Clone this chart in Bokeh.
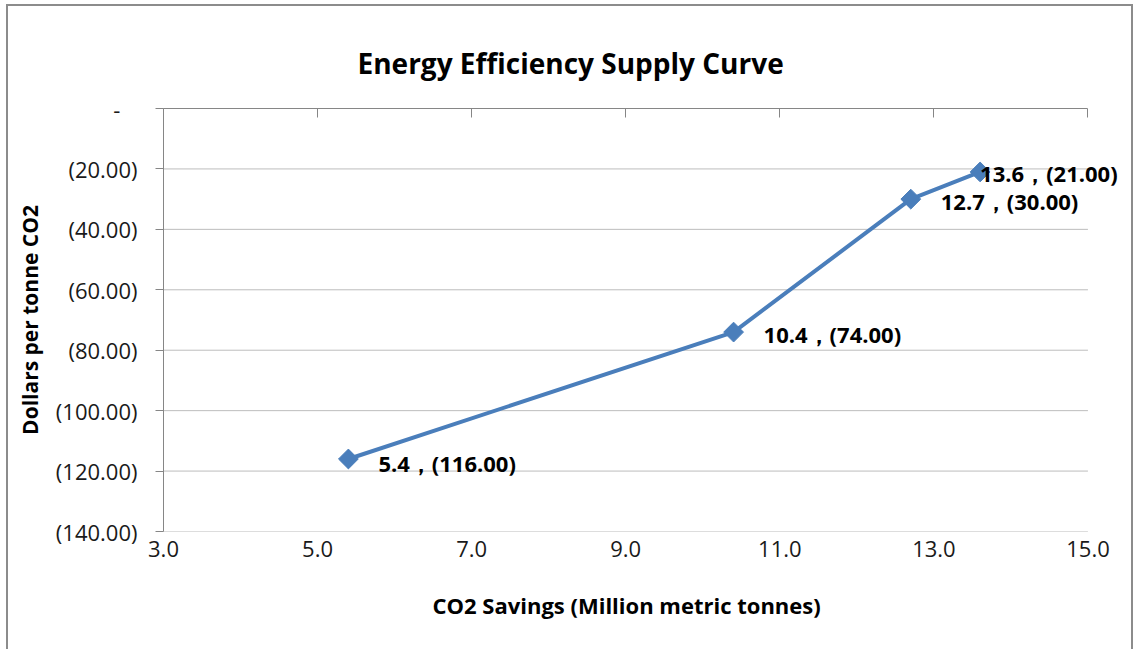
import math
from bokeh.plotting import figure
from bokeh.models import (LinearAxis, FixedTicker, CustomJSTickFormatter, Range1d,
                          ColumnDataSource, Label, Title)
from bokeh.embed import file_html
from bokeh.resources import INLINE

# ---- data ----
savings = [5.4, 10.4, 12.7, 13.6]
cost = [-116.0, -74.0, -30.0, -21.0]
point_labels = ["5.4，(116.00)", "10.4，(74.00)", "12.7，(30.00)", "13.6，(21.00)"]
x_ticks = [3, 5, 7, 9, 11, 13, 15]
y_ticks = [-140, -120, -100, -80, -60, -40, -20, 0]

title_text = "Energy Efficiency Supply Curve"
x_label = "CO2 Savings (Million metric tonnes)"
y_label = "Dollars per tonne CO2"

# label offsets (style)
label_dx = [30, 30, 30, 0]
label_dy = [-4, -2, -2, -1]

FONT = "Open Sans"
BLUE = "#4a7ebb"
AXIS = "#868686"

x_lo, x_hi = x_ticks[0], x_ticks[-1]

# frame extends a little past the last tick so that the last data label is not clipped
p = figure(width=1123, height=643, output_backend="svg", toolbar_location=None,
           x_range=Range1d(x_lo, x_hi + 0.5), y_range=Range1d(-140, 0),
           x_axis_location=None, y_axis_location=None,
           min_border_left=155, min_border_right=5, min_border_top=102, min_border_bottom=118,
           title=None)
p.outline_line_color = None
p.background_fill_color = "white"
p.border_fill_color = "white"
p.styles = {"outline": "2px solid #8c8c8c", "margin-left": "8px", "margin-top": "6px"}

# top axis line at y=0 with inward ticks (closest to frame)
ta = LinearAxis(ticker=FixedTicker(ticks=x_ticks), bounds=(x_lo, x_hi))
ta.axis_line_color = AXIS
ta.major_tick_line_color = AXIS
ta.major_tick_in = 9
ta.major_tick_out = 0
ta.minor_tick_line_color = None
ta.major_label_text_font_size = "0px"
ta.major_label_standoff = 0
p.add_layout(ta, "above")

# chart title
t = Title(text=title_text, align="left", text_font=FONT, text_font_size="28px",
          text_font_style="bold", text_color="black", standoff=54, offset=194)
p.add_layout(t, "above")

# left axis
ya = LinearAxis(ticker=FixedTicker(ticks=y_ticks),
                formatter=CustomJSTickFormatter(code="""
                    if (Math.abs(tick) < 1e-9) { return "-\u00a0\u00a0\u00a0"; }
                    return "(" + Math.abs(tick).toFixed(2) + ")";
                """),
                axis_label=y_label)
ya.axis_line_color = AXIS
ya.major_tick_line_color = AXIS
ya.major_tick_out = 8
ya.major_tick_in = 0
ya.minor_tick_line_color = None
ya.major_label_text_font = FONT
ya.major_label_text_font_size = "22px"
ya.major_label_text_color = "#1a1a1a"
ya.major_label_standoff = 18
ya.axis_label_text_font = FONT
ya.axis_label_text_font_size = "21px"
ya.axis_label_text_font_style = "bold"
ya.axis_label_text_color = "black"
ya.axis_label_standoff = 9
p.add_layout(ya, "left")

# bottom axis (tick labels only)
xa = LinearAxis(ticker=FixedTicker(ticks=x_ticks), bounds=(x_lo, x_hi),
                formatter=CustomJSTickFormatter(code="return tick.toFixed(1);"))
xa.axis_line_color = None
xa.major_tick_line_color = None
xa.minor_tick_line_color = None
xa.major_tick_out = 0
xa.major_tick_in = 0
xa.major_label_text_font = FONT
xa.major_label_text_font_size = "22px"
xa.major_label_text_color = "#1a1a1a"
xa.major_label_standoff = 9
p.add_layout(xa, "below")

# x axis title, centred under the 3..15 axis extent
xt = Title(text=x_label, align="left", text_font=FONT, text_font_size="22px",
           text_font_style="bold", text_color="black", standoff=56, offset=269)
p.add_layout(xt, "below")

# dotted horizontal gridlines spanning the axis extent only
p.xgrid.grid_line_color = None
p.ygrid.grid_line_color = None
grid_y = [v for v in y_ticks if v != 0]
p.segment(x0=[x_lo] * len(grid_y), x1=[x_hi] * len(grid_y), y0=grid_y, y1=grid_y,
          line_color="#7a7a7a", line_dash="1 1", line_width=1, level="underlay")

src = ColumnDataSource(dict(x=savings, y=cost))
p.line("x", "y", source=src, line_color=BLUE, line_width=4)
p.scatter("x", "y", source=src, marker="square", angle=math.pi / 4, size=14,
          fill_color=BLUE, line_color=BLUE)

for xv, yv, txt, dx, dy in zip(savings, cost, point_labels, label_dx, label_dy):
    p.add_layout(Label(x=xv, y=yv, text=txt, x_offset=dx, y_offset=dy,
                       text_font=FONT, text_font_size="22px", text_font_style="bold",
                       text_color="black", text_baseline="middle", text_align="left"))

open("out.html", "w").write(file_html(p, INLINE))
